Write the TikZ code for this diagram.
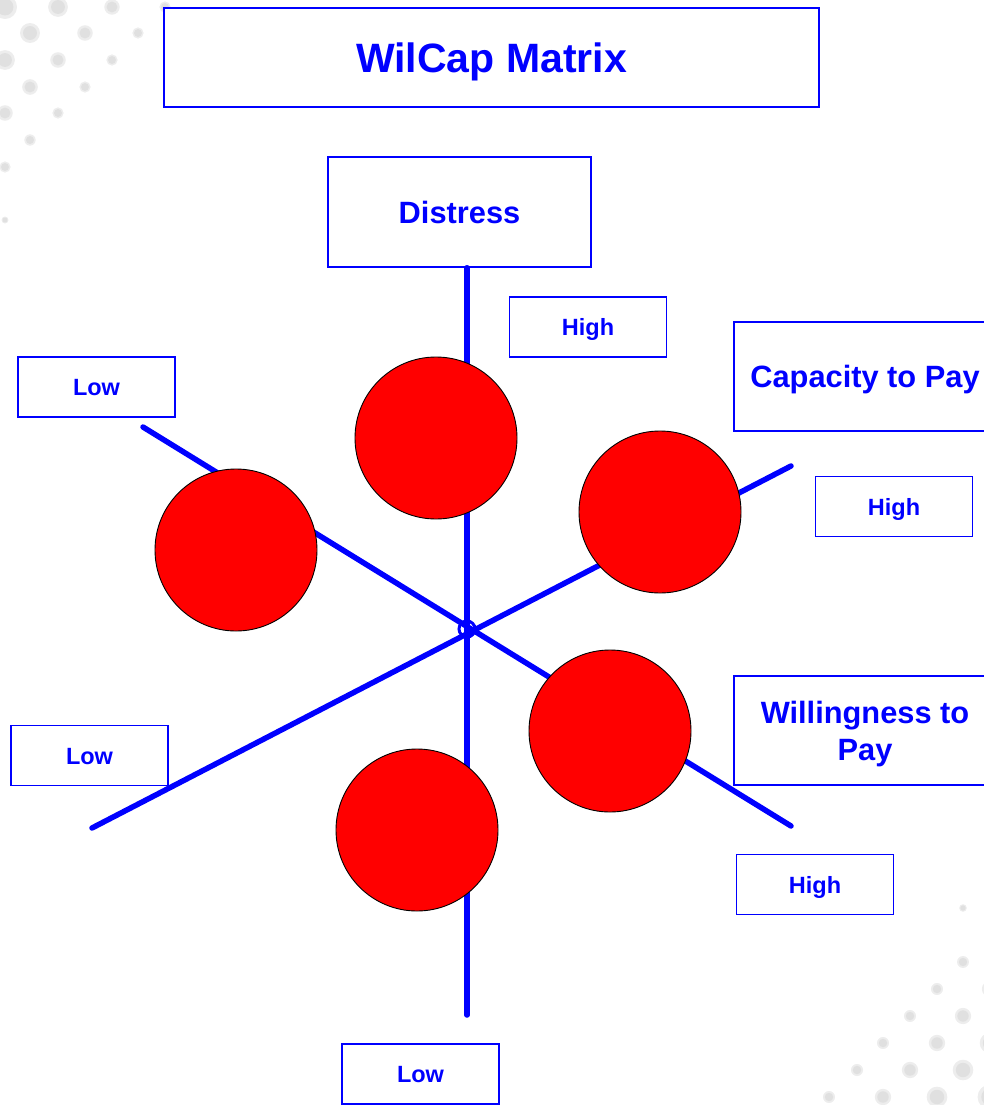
\documentclass[tikz,border=0pt]{standalone}
\usepackage{fontspec}
\setmainfont{Liberation Sans}
\begin{document}
\begin{tikzpicture}[x=1pt,y=-1pt,
  frame/.style={draw=blue, line width=1.5pt, fill=white, text=blue, inner sep=0pt},
  bigbox/.style={frame, minimum width=262pt, minimum height=109pt,
    font=\fontsize{30.8}{37}\selectfont\bfseries},
  tag/.style={frame, minimum width=157pt, minimum height=60pt,
    font=\fontsize{23.5}{28}\selectfont\bfseries, text height=17pt, text depth=0pt},
  axis/.style={draw=blue, line width=5.5pt, line cap=round},
  ball/.style={circle, draw=black, line width=0.9pt, fill=red,
    minimum size=162pt, inner sep=0pt},
  halo/.style={fill=black!7},
  speck/.style={fill=black!12}]

% page frame
\useasboundingbox (0,0) rectangle (983,1105);

% dotted texture in the two corners: a soft rim round a slightly darker core
\foreach \px/\py in {5/7,58/7,112/7,165/7,30/33,85/33,138/33,5/60,58/60,112/60,
    30/87,85/87,5/113,58/113,30/140,5/167,5/220}{
  \pgfmathsetmacro\rr{max(3,12.5-(\px+\py)/25)}
  \fill[halo] (\px,\py) circle (\rr);
  \fill[speck] (\px,\py) circle (0.7*\rr);
}
\foreach \px/\py in {937/1097,883/1097,829/1097,990/1097,963/1070,910/1070,857/1070,
    990/1043,937/1043,883/1043,963/1016,910/1016,990/989,937/989,963/962,990/935,963/908}{
  \pgfmathsetmacro\rr{max(3,12.5-((983-\px)+(1105-\py))/25)}
  \fill[halo] (\px,\py) circle (\rr);
  \fill[speck] (\px,\py) circle (0.7*\rr);
}

% title
\node[frame, minimum width=655pt, minimum height=99pt,
  font=\fontsize{41}{49}\selectfont\bfseries, text height=29.4pt, text depth=0pt]
  (title) at (491.5,57.5) {WilCap Matrix};

% axis labels
\node[frame, minimum width=263pt, minimum height=110pt,
  font=\fontsize{30.8}{37}\selectfont\bfseries, text height=22pt, text depth=0pt]
  (distress) at (459.5,212) {Distress};
\node[bigbox, text height=22pt, text depth=0pt] (cap) at (865,376.5) {Capacity to Pay};
\node[bigbox, align=center, text depth=0pt] (will) at (865,730.5) {Willingness to\\Pay};

% axis end points
\coordinate (vEnd) at (467,1015);
\coordinate (wLow) at (143,427);
\coordinate (wHigh) at (791,826);
\coordinate (cLow) at (92,828);
\coordinate (cHigh) at (791,466);

% axes
\draw[axis] (distress.south -| vEnd) -- (vEnd);
\draw[axis] (wLow) -- (wHigh);
\draw[axis] (cLow) -- (cHigh);
\node[circle, draw=blue, line width=3pt, minimum size=16pt, inner sep=0pt] (hub) at (467,629) {};

% level tags
\node[tag] (distHigh) at (588,327) {High};
\node[tag] (distLow) at (420.5,1074) {Low};
\node[tag] (willLow) at (96.5,387) {Low};
\node[tag] (willHigh) at (815,884.5) {High};
\node[tag] (capLow) at (89.5,755.5) {Low};
\node[tag] (capHigh) at (894,506.5) {High};

% segments
\node[ball] (b1) at (436,438) {};
\node[ball] (b2) at (236,550) {};
\node[ball] (b3) at (660,512) {};
\node[ball] (b4) at (610,731) {};
\node[ball] (b5) at (417,830) {};
\end{tikzpicture}
\end{document}
